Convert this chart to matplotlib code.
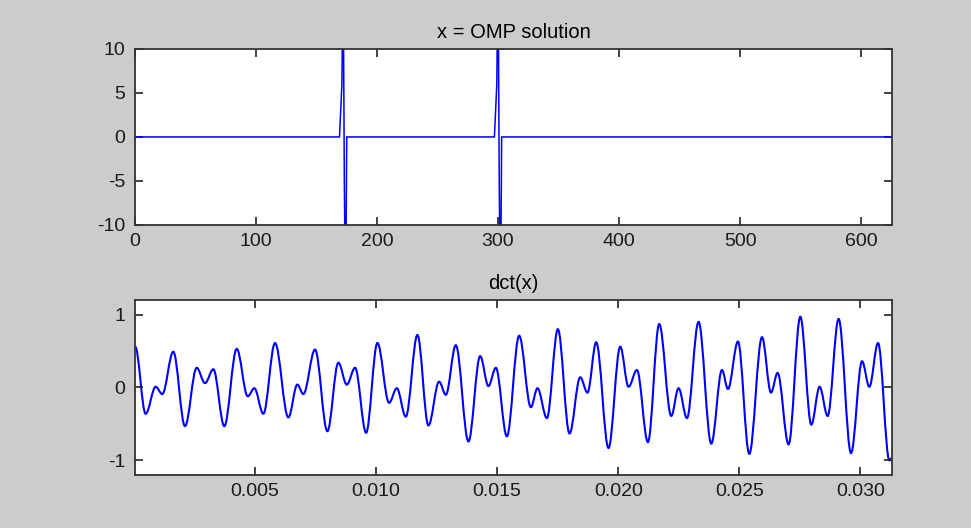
import matplotlib.pyplot as plt
import numpy as np
from matplotlib.path import Path
from matplotlib.patches import PathPatch

# top panel: sparse OMP solution, nonzero entries
n_samples = 626
spike_idx = [170, 171, 172, 173, 174, 298, 299, 300, 301, 302]
spike_val = [3.0, 6.0, 20.0, -5.0, -20.0, 3.0, 6.0, 20.0, -5.0, -20.0]

# bottom panel: dct(x), traced turning points (time in s, value)
t_dct = [0.00005, 0.000483, 0.000897, 0.001169, 0.001624, 0.002107, 0.002591,
         0.002934, 0.003277, 0.003731, 0.004244, 0.004698, 0.004971, 0.005343,
         0.005826, 0.006376, 0.006748, 0.006996, 0.007479, 0.007988, 0.008442,
         0.008789, 0.009132, 0.009587, 0.010054, 0.010537, 0.010855, 0.011227,
         0.011707, 0.012161, 0.012603, 0.012880, 0.013293, 0.013814, 0.014298,
         0.014640, 0.014946, 0.015401, 0.015909, 0.016393, 0.016665, 0.017054,
         0.017508, 0.017988, 0.018430, 0.018731, 0.019091, 0.019599, 0.020083,
         0.020426, 0.020773, 0.021227, 0.021694, 0.022190, 0.022492, 0.022839,
         0.023318, 0.023843, 0.024285, 0.024533, 0.024946, 0.025413, 0.025938,
         0.026310, 0.026583, 0.027037, 0.027521, 0.027975, 0.028318, 0.028649,
         0.029103, 0.029616, 0.030070, 0.030372, 0.030731, 0.031200, 0.031300]
v_dct = [0.56, -0.36, 0.01, -0.09, 0.49, -0.53, 0.27,
         0.06, 0.25, -0.53, 0.53, -0.12, -0.01, -0.36,
         0.61, -0.41, 0.04, -0.09, 0.52, -0.60, 0.34,
         0.04, 0.27, -0.62, 0.61, -0.21, -0.01, -0.40,
         0.72, -0.52, 0.08, -0.10, 0.58, -0.74, 0.43,
         0.02, 0.27, -0.67, 0.71, -0.27, -0.01, -0.42,
         0.80, -0.63, 0.14, -0.07, 0.62, -0.83, 0.56,
         0.01, 0.24, -0.75, 0.87, -0.39, -0.01, -0.42,
         0.90, -0.77, 0.24, -0.02, 0.63, -0.91, 0.69,
         -0.07, 0.20, -0.78, 0.97, -0.51, 0.01, -0.39,
         0.94, -0.90, 0.36, 0.01, 0.61, -1.00, -0.97]

plt.rcParams['font.family'] = ['Liberation Sans', 'DejaVu Sans']
plt.rcParams['font.size'] = 14
plt.rcParams['axes.unicode_minus'] = False


def turning_point_path(ts, vs):
    # join turning points with flat-tangent cubic segments
    verts = [(ts[0], vs[0])]
    codes = [Path.MOVETO]
    for i in range(1, len(ts)):
        dt = (ts[i] - ts[i - 1]) / 2.8
        verts += [(ts[i - 1] + dt, vs[i - 1]), (ts[i] - dt, vs[i]), (ts[i], vs[i])]
        codes += [Path.CURVE4] * 3
    return Path(verts, codes)


x = np.zeros(n_samples)
x[spike_idx] = spike_val
n = np.arange(n_samples)

fig = plt.figure(figsize=(9.71, 5.28), dpi=100, facecolor='#cccccc')
ax1 = fig.add_axes([0.139, 0.574, 0.7797, 0.3333])
ax2 = fig.add_axes([0.139, 0.1004, 0.7797, 0.3314])

ax1.plot(n, x, color='#0000ff', lw=1.1)
ax1.set_xlim(0, 625.6)
ax1.set_ylim(-10, 10)
ax1.set_xticks([0, 100, 200, 300, 400, 500, 600])
ax1.set_yticks([-10, -5, 0, 5, 10])
ax1.set_title('x = OMP solution', fontsize=14.5, pad=8)

ax2.add_patch(PathPatch(turning_point_path(t_dct, v_dct), facecolor='none',
                        edgecolor='#0000ff', lw=1.5))
ax2.set_xlim(0.0000413, 0.03131)
ax2.set_ylim(-1.2, 1.2)
ax2.set_xticks([0.005, 0.010, 0.015, 0.020, 0.025, 0.030])
ax2.set_xticklabels(['0.005', '0.010', '0.015', '0.020', '0.025', '0.030'])
ax2.set_yticks([-1, 0, 1])
ax2.set_title('dct(x)', fontsize=14.5, pad=8)

for ax in (ax1, ax2):
    ax.set_facecolor('white')
    ax.tick_params(direction='in', length=6, width=1.2, top=True, right=True,
                   colors='#222222', labelcolor='#1a1a1a')
    ax.tick_params(axis='x', pad=6)
    ax.tick_params(axis='y', pad=7)
    for sp in ax.spines.values():
        sp.set_color('#333333')
        sp.set_linewidth(1.3)

fig.savefig('out.png', dpi=100, facecolor=fig.get_facecolor())
